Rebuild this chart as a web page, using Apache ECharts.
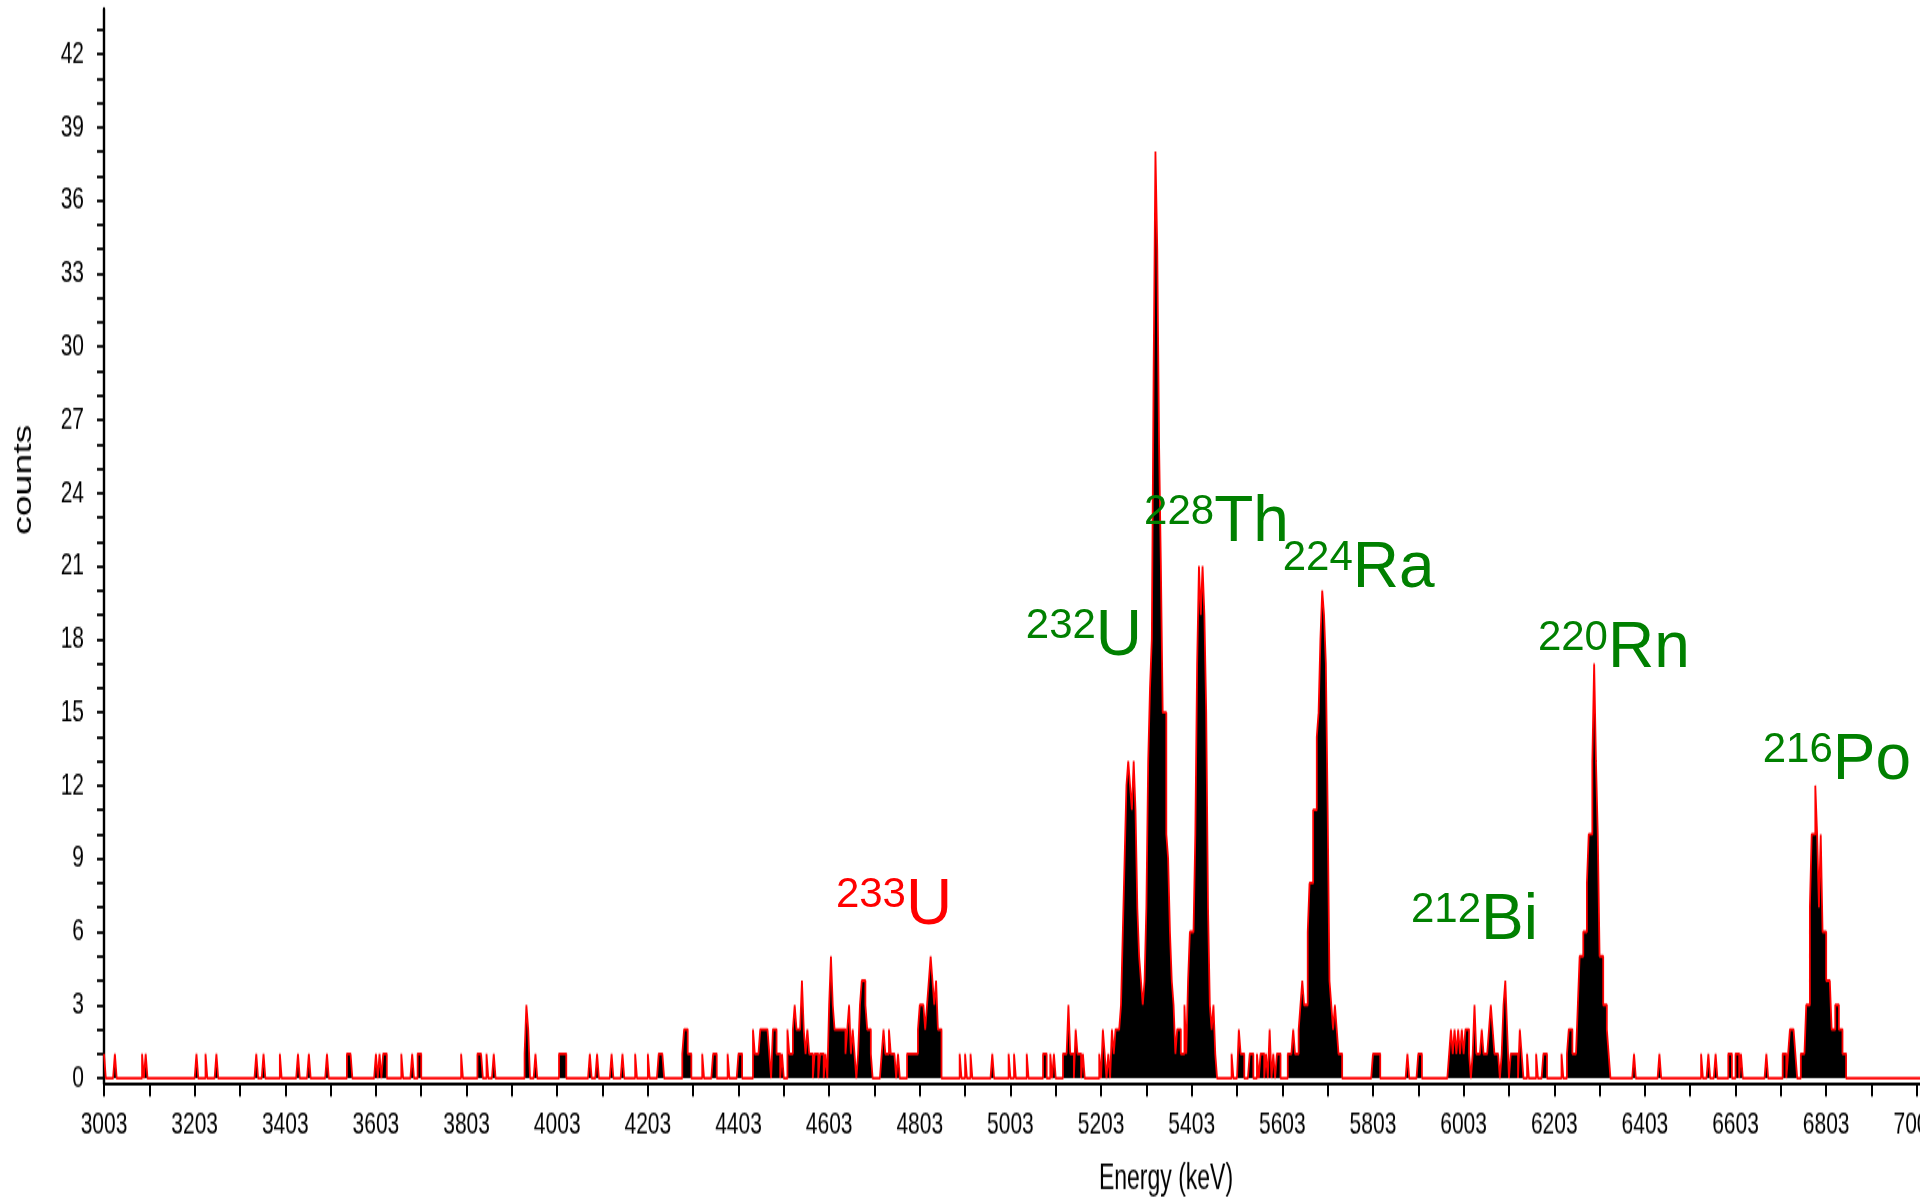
<!DOCTYPE html>
<html>
<head>
<meta charset="utf-8">
<title>Alpha spectrum</title>
<script src="https://cdn.jsdelivr.net/npm/echarts@6/dist/echarts.min.js"></script>
<style>
  html, body { margin: 0; padding: 0; background: #fff; width: 1920px; height: 1204px; overflow: hidden; }
  /* the spectrum is laid out at 2/3 height and stretched vertically */
  #spectrum { position: absolute; left: 0; top: 0; width: 1920px; height: 803px;
              transform-origin: 0 0; transform: scaleY(1.499377); }
  #nuclides { position: absolute; left: 0; top: 0; width: 1920px; height: 1204px; pointer-events: none; }
</style>
</head>
<body>
<div id="spectrum"></div>
<div id="nuclides"></div>
<script>
// ---- axis ticks and labels (keV / counts) ----
const energyLabels = [3003, 3203, 3403, 3603, 3803, 4003, 4203, 4403, 4603, 4803, 5003,
                      5203, 5403, 5603, 5803, 6003, 6203, 6403, 6603, 6803, 7003];
const countLabels = [0, 3, 6, 9, 12, 15, 18, 21, 24, 27, 30, 33, 36, 39, 42];

// ---- spectrum: 4 keV channels, listed by channel centre ----
const CHANNEL_KEV = 4;
const FIRST_CENTER = 3005;
const N_CHANNELS = 1002;

// isolated channels holding a single count
const singleCountChannels = [
  3005, 3029, 3089, 3097, 3209, 3229, 3253, 3341, 3357, 3393, 3433, 3457, 3497,
  3541, 3545, 3549, 3605, 3613, 3621, 3625, 3661, 3685, 3697, 3701, 3793,
  3829, 3833, 3837, 3849, 3865, 3957, 4009, 4013, 4017, 4021, 4077, 4093,
  4125, 4149, 4177, 4205, 4229, 4233, 4237,
  4893, 4905, 4917, 4965, 5001, 5013, 5041, 5077, 5081, 5093, 5101,
  5493, 5513, 5517, 5533, 5537, 5549, 5557, 5561, 5569, 5585, 5593,
  5805, 5809, 5813, 5817, 5881, 5905, 5909,
  6381, 6437, 6529, 6545, 6561, 6589, 6593, 6605, 6609, 6617, 6673, 6709, 6713
];
const doubleCountChannels = [5509, 5577];

// contiguous groups: first channel centre + counts
const group3935Start = 3933;
const group3935Counts = [1, 3, 2];

const group4285Start = 4281;
const group4285Counts = [1, 2, 2, 1, 1];

const u233Start = 4325;
const u233Counts = [
  1, 0, 0, 0, 0, 0, 1, 1, 0, 0,
  0, 0, 0, 0, 1, 0, 0, 0, 0, 0,
  1, 1, 0, 0, 0, 0, 0, 0, 2, 1,
  1, 1, 2, 2, 2, 2, 2, 1, 0, 2,
  2, 1, 1, 0, 1, 0, 0, 2, 1, 1,
  2, 3, 2, 2, 2, 4, 2, 1, 2, 1,
  1, 0, 1, 1, 0, 1, 1, 0, 1, 0,
  3, 5, 3, 2, 2, 2, 2, 2, 2, 1,
  2, 3, 1, 2, 1, 0, 1, 3, 4, 4,
  3, 2, 2, 1, 0, 0, 0, 0, 0, 1,
  2, 1, 1, 2, 1, 1, 1, 0, 1, 0,
  0, 0, 0, 1, 1, 1, 1, 1, 1, 2,
  3, 3, 3, 2, 3, 4, 5, 4, 3, 4,
  2, 2
];

const group5140Start = 5121;
const group5140Counts = [1, 1, 1, 3, 1, 1, 0, 2, 1, 1, 0, 1];

const u232Th228Start = 5201;
const u232Th228Counts = [
  1, 0, 2, 1, 0, 1, 0, 2, 1, 2,
  2, 2, 3, 6, 9, 12, 13, 12, 11, 13,
  11, 7, 5, 4, 3, 4, 7, 13, 16, 18,
  29, 38, 34, 26, 21, 15, 15, 10, 9, 6,
  4, 3, 1, 2, 2, 1, 1, 3, 1, 4,
  6, 6, 6, 10, 17, 21, 19, 21, 19, 15,
  7, 3, 2, 3, 1
];

const ra224Start = 5597;
const ra224Counts = [
  1, 0, 0, 0, 0, 1, 1, 1, 2, 1,
  1, 2, 3, 4, 3, 3, 6, 8, 8, 11,
  11, 14, 15, 18, 20, 19, 17, 11, 4, 3,
  2, 3, 2, 1, 1
];

const bi212Start = 5973;
const bi212Counts = [
  1, 2, 1, 2, 1, 2, 1, 2, 1, 2,
  2, 1, 0, 1, 3, 1, 1, 1, 2, 1,
  1, 1, 2, 3, 2, 1, 1, 1, 0, 1,
  3, 4, 2, 0, 1, 1, 1, 1, 0, 2,
  1, 0, 0, 1, 0, 0, 0, 0, 1, 0,
  0, 0, 1, 1
];

const rn220Start = 6217;
const rn220Counts = [
  0, 1, 0, 0, 1, 2, 2, 1, 1, 1,
  3, 5, 5, 6, 6, 8, 10, 10, 13, 17,
  13, 10, 5, 5, 3, 3, 2, 1
];

const po216Start = 6721;
const po216Counts = [
  1, 2, 2, 2, 1, 0, 0, 1, 1, 1,
  3, 3, 7, 10, 10, 12, 10, 7, 10, 6,
  6, 4, 4, 4, 2, 2, 3, 3, 2, 2,
  1, 1
];

// ---- nuclide annotations ----
const nuclideMass = ['233', '232', '228', '224', '212', '220', '216'];
const nuclideSymbol = ['U', 'U', 'Th', 'Ra', 'Bi', 'Rn', 'Po'];
const nuclideTracer = [true, false, false, false, false, false, false];
// text baseline anchor in (keV, counts)
const nuclideAnchor = [
  [4618, 6.15], [5037, 17.19], [5298, 21.86], [5604, 19.97],
  [5887, 5.54], [6167, 16.67], [6663, 12.1]
];

// ---- assemble channel contents ----
const counts = new Array(N_CHANNELS).fill(0);
const chan = e => Math.round((e - FIRST_CENTER) / CHANNEL_KEV);
singleCountChannels.forEach(e => { counts[chan(e)] = 1; });
doubleCountChannels.forEach(e => { counts[chan(e)] = 2; });
[
  [group3935Start, group3935Counts], [group4285Start, group4285Counts],
  [u233Start, u233Counts], [group5140Start, group5140Counts],
  [u232Th228Start, u232Th228Counts], [ra224Start, ra224Counts],
  [bi212Start, bi212Counts], [rn220Start, rn220Counts], [po216Start, po216Counts]
].forEach(([start, arr]) => arr.forEach((c, i) => { counts[chan(start) + i] = c; }));

// left channel edges, drawn as a step outline
const stepData = counts.map((c, i) => [FIRST_CENTER - CHANNEL_KEV / 2 + i * CHANNEL_KEV, c]);
stepData.push([FIRST_CENTER - CHANNEL_KEV / 2 + N_CHANNELS * CHANNEL_KEV, 0]);

const energyTicks = [];
for (let e = 3003; e <= 7003; e += 100) energyTicks.push(e);
const countTicks = [];
for (let c = 0; c <= 43; c++) countTicks.push(c);

const X_MIN = 3003, X_MAX = 7010, Y_MIN = -0.2, Y_MAX = 43.85;
const axisFont = "'Liberation Sans', Arial, Helvetica, sans-serif";

const spectrum = echarts.init(document.getElementById('spectrum'));
spectrum.setOption({
  animation: false,
  backgroundColor: '#ffffff',
  grid: { left: 104, right: 0, top: 6, bottom: 80.7, containLabel: false, outerBoundsMode: 'none' },
  xAxis: {
    type: 'value', min: X_MIN, max: X_MAX,
    axisLine: { show: true, onZero: false, lineStyle: { color: '#000', width: 2 } },
    axisTick: { show: true, customValues: energyTicks, length: 9, lineStyle: { color: '#000', width: 2 } },
    axisLabel: { customValues: energyLabels, formatter: v => String(v), margin: 17,
                 fontSize: 21, color: '#000', fontFamily: axisFont },
    splitLine: { show: false }
  },
  yAxis: {
    type: 'value', min: Y_MIN, max: Y_MAX,
    axisLine: { show: true, onZero: false, lineStyle: { color: '#000', width: 2.4 } },
    axisTick: { show: true, customValues: countTicks, length: 7, lineStyle: { color: '#000', width: 1.8 } },
    axisLabel: { customValues: countLabels, formatter: v => String(v), margin: 20,
                 fontSize: 21, color: '#000', fontFamily: axisFont },
    splitLine: { show: false }
  },
  graphic: [
    { type: 'text', x: 1166, y: 787,
      style: { text: 'Energy (keV)', font: "23px " + axisFont, fill: '#000', align: 'center', verticalAlign: 'middle' } },
    { type: 'text', x: 24, y: 320, rotation: Math.PI / 2,
      style: { text: 'counts', font: "25px " + axisFont, fill: '#000', align: 'center', verticalAlign: 'middle' } }
  ],
  series: [{
    type: 'line', step: 'end', data: stepData, symbol: 'none', silent: true,
    lineStyle: { color: '#ff0000', width: 1.8 },
    areaStyle: { color: '#000000', opacity: 1 }
  }]
});

const labelFont = "'Liberation Sans', Arial, Helvetica, sans-serif";
const nuclides = echarts.init(document.getElementById('nuclides'));
nuclides.setOption({
  animation: false,
  grid: { left: 104, right: 0, top: 9, bottom: 121, containLabel: false, outerBoundsMode: 'none' },
  xAxis: { type: 'value', min: X_MIN, max: X_MAX, show: false },
  yAxis: { type: 'value', min: Y_MIN, max: Y_MAX, show: false },
  series: [{
    type: 'scatter', symbolSize: 0.1, silent: true,
    itemStyle: { color: 'transparent', opacity: 1 },
    data: nuclideAnchor.map((p, i) => ({ value: p, tracer: nuclideTracer[i], mass: nuclideMass[i], sym: nuclideSymbol[i] })),
    label: {
      show: true, position: [0, 0], align: 'left', verticalAlign: 'bottom', offset: [0, 10],
      opacity: 1, textBorderWidth: 0,
      formatter: p => {
        const t = p.data.tracer ? 'r' : 'g';
        return '{m' + t + '|' + p.data.mass + '}{s' + t + '|' + p.data.sym + '}';
      },
      rich: {
        mg: { fontSize: 42, lineHeight: 42, verticalAlign: 'top', color: '#008000', fontFamily: labelFont },
        sg: { fontSize: 64, lineHeight: 64, color: '#008000', fontFamily: labelFont },
        mr: { fontSize: 42, lineHeight: 42, verticalAlign: 'top', color: '#ff0000', fontFamily: labelFont },
        sr: { fontSize: 64, lineHeight: 64, color: '#ff0000', fontFamily: labelFont }
      }
    }
  }]
});
</script>
</body>
</html>
